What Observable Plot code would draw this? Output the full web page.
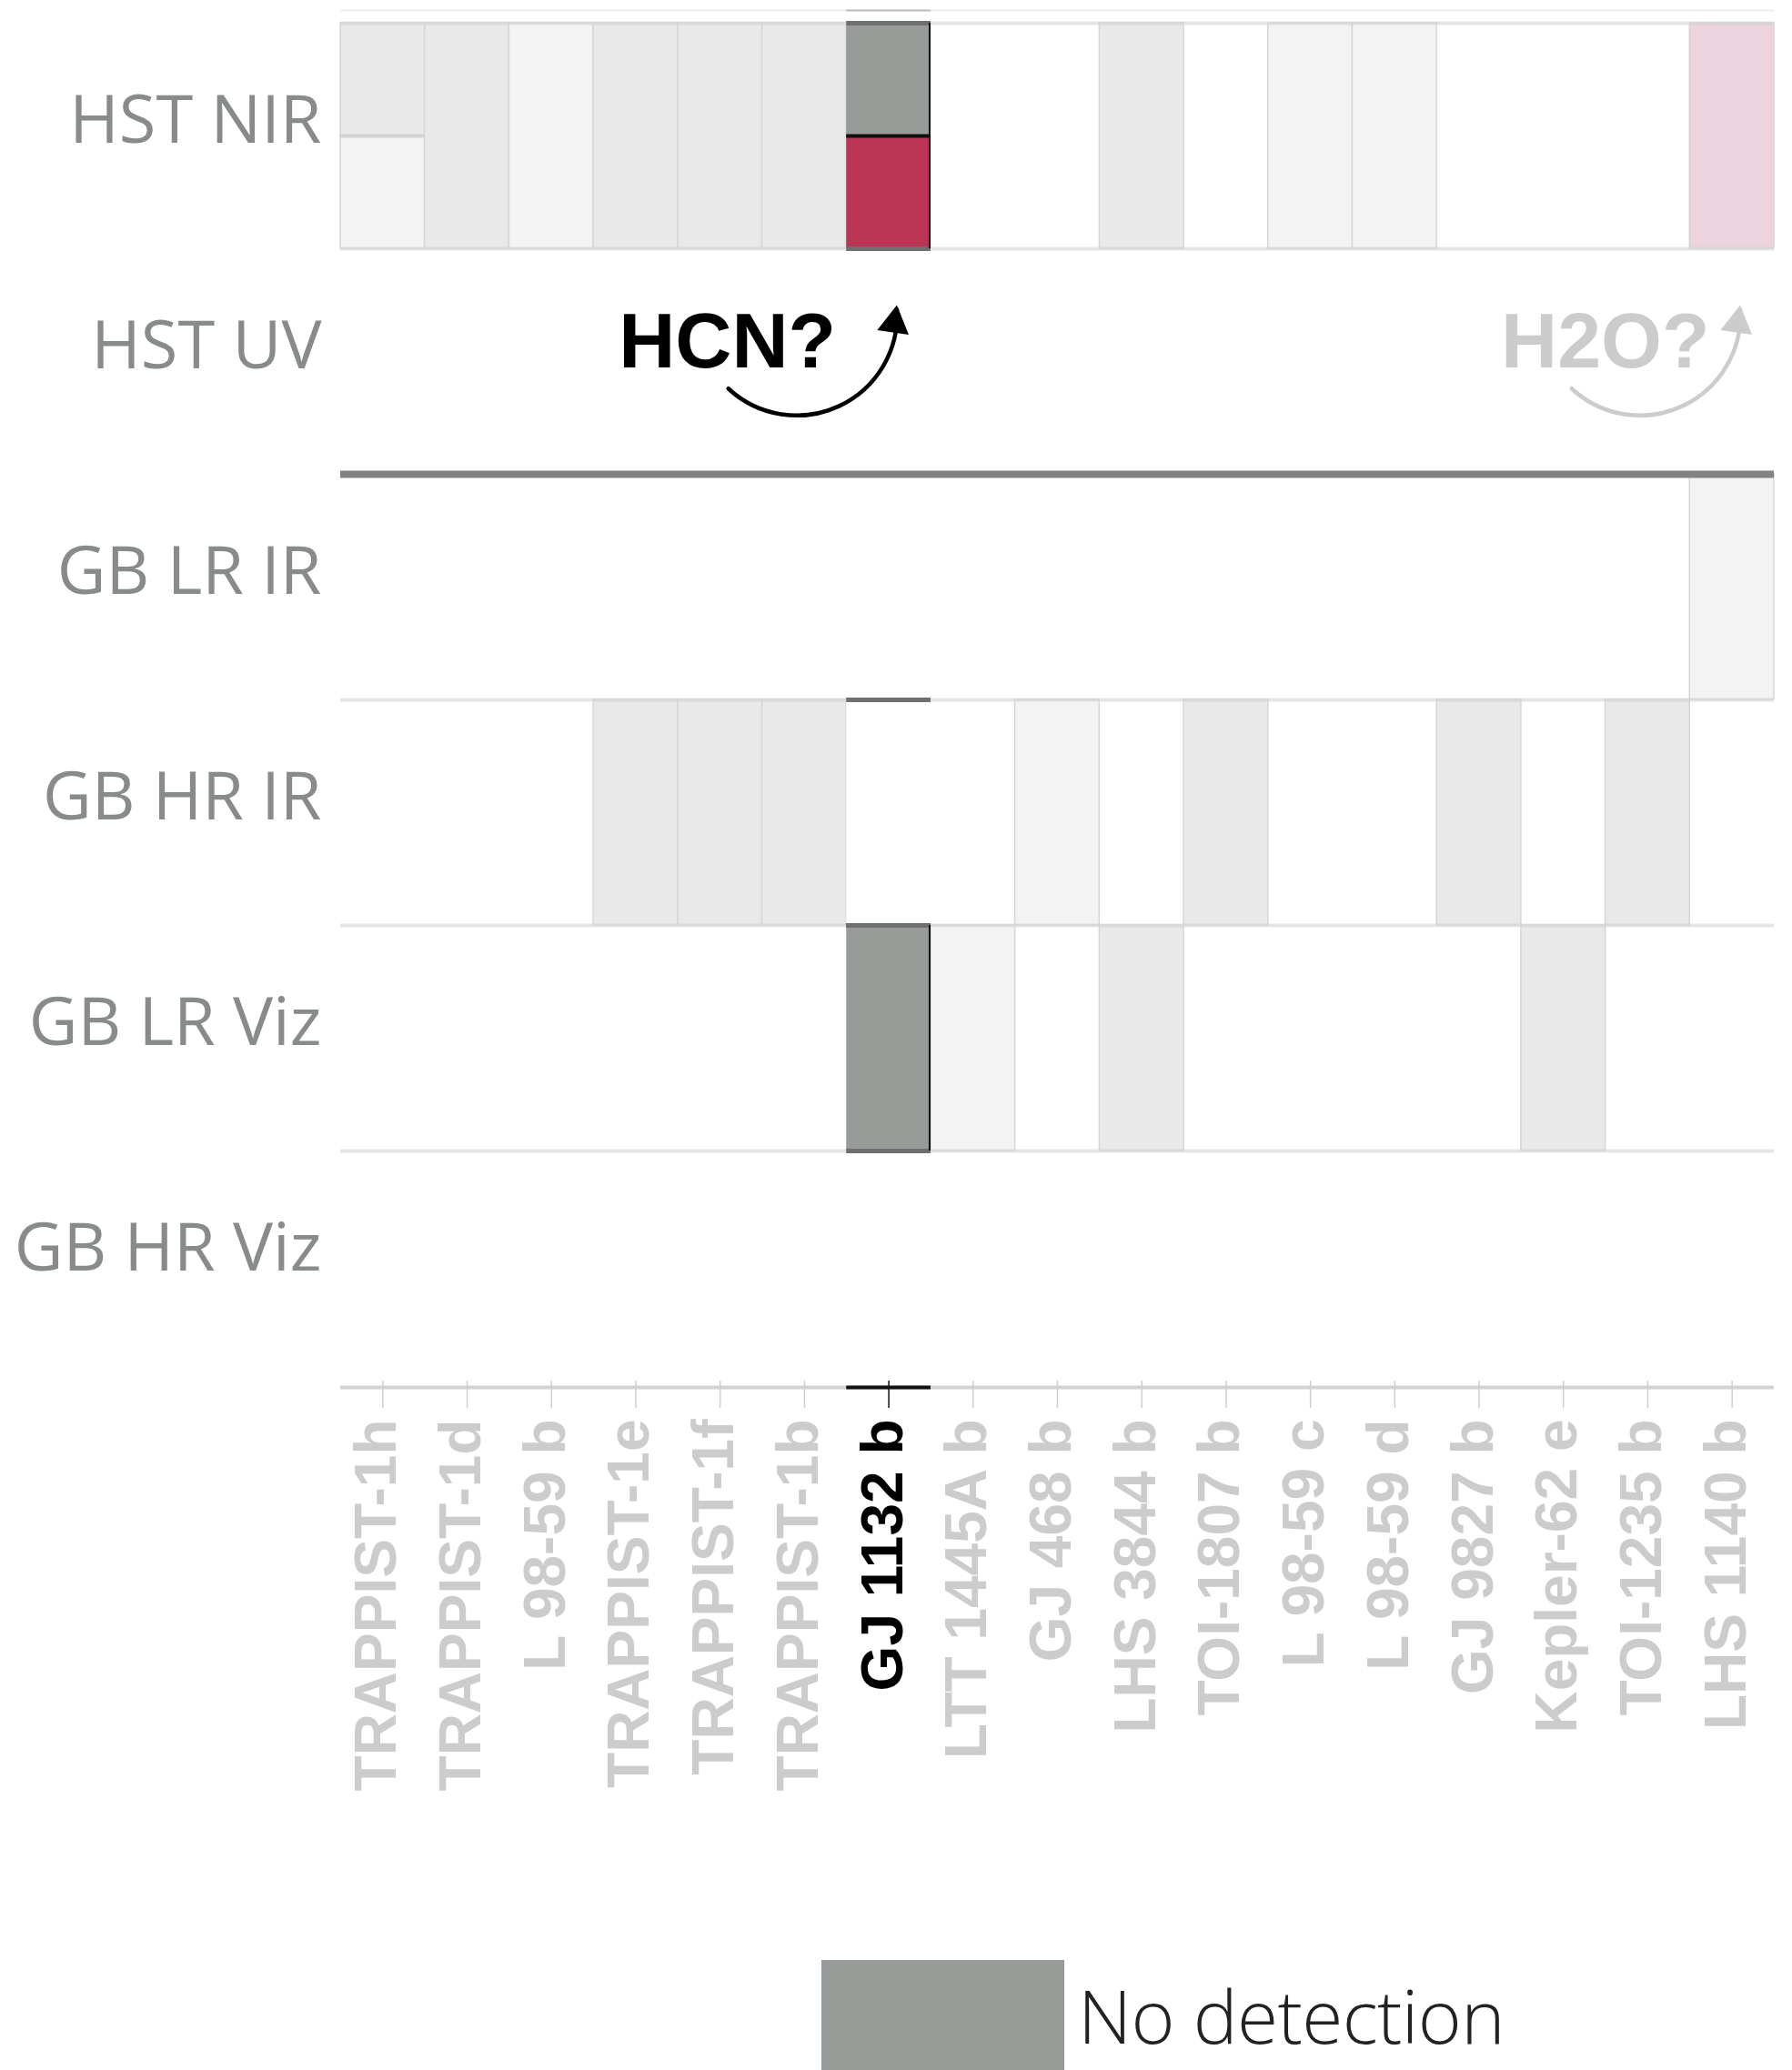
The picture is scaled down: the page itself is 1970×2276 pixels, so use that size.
<!DOCTYPE html>
<html>
<head>
<meta charset="utf-8">
<script src="https://cdn.jsdelivr.net/npm/d3@7"></script>
<script src="https://cdn.jsdelivr.net/npm/@observablehq/plot@0.6"></script>
<style>
  html, body { margin: 0; padding: 0; background: #fff; }
  body { width: 1970px; height: 2276px; overflow: hidden; position: relative; }
  #chart svg { display: block; }
  #legend-swatch { position: absolute; left: 903px; top: 2155px; width: 267px; height: 267px; }
  #legend-label { position: absolute; left: 1185px; top: 2174px; font: 300 82px/82px "Open Sans", sans-serif; color: #222; letter-spacing: -0.6px; white-space: nowrap; }
</style>
</head>
<body>
<div id="chart"></div>
<div id="legend-swatch"></div>
<div id="legend-label"></div>
<script>
// ---------- data ----------
const planets = [
  "TRAPPIST-1h", "TRAPPIST-1d", "L 98-59 b", "TRAPPIST-1e", "TRAPPIST-1f", "TRAPPIST-1b",
  "GJ 1132 b", "LTT 1445A b", "GJ 468 b", "LHS 3844 b", "TOI-1807 b", "L 98-59 c",
  "L 98-59 d", "GJ 9827 b", "Kepler-62 e", "TOI-1235 b", "LHS 1140 b"
];
const instruments = ["HST NIR", "HST UV", "GB LR IR", "GB HR IR", "GB LR Viz", "GB HR Viz"];
const highlight = "GJ 1132 b";

const statuses = ["No detection", "Detection", "Other: no detection", "Other: inconclusive", "Other: detection", "Observed"];
const statusColors = ["#989c99", "#b93553", "#e9e9e9", "#f3f3f3", "#ecd3dd", "#ffffff"];

// [planet, status, part of the cell]
const cellsHstNir = [
  ["TRAPPIST-1h", "Other: no detection", "top"],
  ["TRAPPIST-1h", "Other: inconclusive", "bottom"],
  ["TRAPPIST-1d", "Other: no detection", "full"],
  ["L 98-59 b", "Other: inconclusive", "full"],
  ["TRAPPIST-1e", "Other: no detection", "full"],
  ["TRAPPIST-1f", "Other: no detection", "full"],
  ["TRAPPIST-1b", "Other: no detection", "full"],
  ["GJ 1132 b", "No detection", "top"],
  ["GJ 1132 b", "Detection", "bottom"],
  ["LHS 3844 b", "Other: no detection", "full"],
  ["L 98-59 c", "Other: inconclusive", "full"],
  ["L 98-59 d", "Other: inconclusive", "full"],
  ["LHS 1140 b", "Other: detection", "full"]
];
const cellsHstUv = [];
const cellsGbLrIr = [
  ["LHS 1140 b", "Other: inconclusive", "full"]
];
const cellsGbHrIr = [
  ["TRAPPIST-1e", "Other: no detection", "full"],
  ["TRAPPIST-1f", "Other: no detection", "full"],
  ["TRAPPIST-1b", "Other: no detection", "full"],
  ["GJ 1132 b", "Observed", "full"],
  ["GJ 468 b", "Other: inconclusive", "full"],
  ["TOI-1807 b", "Other: no detection", "full"],
  ["GJ 9827 b", "Other: no detection", "full"],
  ["TOI-1235 b", "Other: no detection", "full"]
];
const cellsGbLrViz = [
  ["GJ 1132 b", "No detection", "full"],
  ["LTT 1445A b", "Other: inconclusive", "full"],
  ["LHS 3844 b", "Other: no detection", "full"],
  ["Kepler-62 e", "Other: no detection", "full"]
];
const cellsGbHrViz = [];

// annotations in the HST UV row
const annotationLabels = ["HCN?", "H2O?"];
const annotationFrom = ["TRAPPIST-1f", "Kepler-62 e"];
const annotationTo = ["GJ 1132 b", "LHS 1140 b"];
const annotationColors = ["#000000", "#cccccc"];

// ---------- build tables ----------
const rowOf = name => instruments.indexOf(name);
const rowLists = [cellsHstNir, cellsHstUv, cellsGbLrIr, cellsGbHrIr, cellsGbLrViz, cellsGbHrViz];
const cells = [];
rowLists.forEach((list, r) => {
  for (const [planet, status, part] of list) {
    const y1 = part === "bottom" ? r + 0.5 : r;
    const y2 = part === "top" ? r + 0.5 : r + 1;
    cells.push({planet, status, part, instrument: instruments[r], y1, y2});
  }
});
const hiCells = cells.filter(d => d.planet === highlight);
const hiEdges = [];
for (const d of hiCells) {
  if (d.part !== "bottom") hiEdges.push({planet: d.planet, y: d.y1});
  if (d.part !== "top") hiEdges.push({planet: d.planet, y: d.y2});
}
const splits = cells.filter(d => d.part === "bottom");
const annotations = annotationLabels.map((label, i) => ({
  label, from: annotationFrom[i], to: annotationTo[i], color: annotationColors[i]
}));
const gbStart = instruments.findIndex(s => s.startsWith("GB"));
const uv = rowOf("HST UV");

// ---------- layout ----------
const W = 1970, H = 2100;
const mL = 374, mR = 20, mT = 25, plotBottom = 1513;
const bw = (W - mL - mR) / planets.length;
const nRows = instruments.length;
const boldFont = "'Liberation Sans', Arial, Helvetica, sans-serif";

const chart = Plot.plot({
  width: W,
  height: H,
  marginLeft: mL,
  marginRight: mR,
  marginTop: mT,
  marginBottom: H - plotBottom,
  style: {background: "#fff", overflow: "visible"},
  x: {type: "band", domain: planets, padding: 0, round: false, axis: null},
  y: {domain: [0, nRows], reverse: true, axis: null},
  color: {type: "ordinal", domain: statuses, range: statusColors},
  marks: [
    Plot.ruleY([0], {dy: -14, stroke: "#ececec", strokeWidth: 2}),
    Plot.tickY([highlight], {x: d => d, y: 0, dy: -14, stroke: "#bdbdbd", strokeWidth: 2}),
    // cells
    Plot.barY(cells.filter(d => d.planet !== highlight), {
      x: "planet", y1: "y1", y2: "y2", fill: "status", stroke: "#d6d6d6", strokeWidth: 1.5
    }),
    Plot.barY(hiCells, {x: "planet", y1: "y1", y2: "y2", fill: "status"}),
    // row separators (no line under the last row; the axis sits there)
    Plot.ruleY(d3.range(0, nRows), {stroke: "#d4d4d4", strokeOpacity: 0.6, strokeWidth: 4}),
    // split line inside halved cells
    Plot.tickY(splits, {
      x: "planet", y: "y1",
      stroke: d => d.planet === highlight ? "#111111" : "#d4d4d4",
      strokeWidth: 4
    }),
    // highlighted column edges
    Plot.tickY(hiEdges, {x: "planet", y: "y", stroke: "#6f6f6f", strokeWidth: 5}),
    Plot.barY(hiCells.filter(d => d.status !== "Observed"), {
      x: "planet", y1: "y1", y2: "y2", fill: "#111", insetLeft: bw - 2
    }),
    // HST / ground-based divider
    Plot.ruleY([gbStart], {stroke: "#828282", strokeWidth: 8}),
    // x axis
    Plot.ruleY([nRows], {dy: 12, stroke: "#d3d3d3", strokeWidth: 4}),
    Plot.tickY([highlight], {x: d => d, y: nRows, dy: 12, stroke: "#111", strokeWidth: 4}),
    Plot.ruleX(planets, {
      x: d => d, y1: nRows, y2: nRows, dy: 12, insetTop: -7, insetBottom: -23,
      stroke: d => d === highlight ? "#111111" : "#cfcfcf", strokeWidth: 1.5
    }),
    Plot.text(planets, {
      x: d => d, y: nRows, dy: 47, dx: -6, rotate: -90, textAnchor: "end",
      fontSize: 64, fontWeight: "bold", fontFamily: boldFont,
      fill: d => d === highlight ? "#000000" : "#cccccc"
    }),
    // y labels
    Plot.text(instruments, {
      y: (d, i) => i + 0.5, frameAnchor: "left", textAnchor: "end", dx: -21, dy: -16,
      fontSize: 74, fontWeight: 500, fontFamily: "'Open Sans', sans-serif", fill: "#878b8a"
    }),
    // annotations
    Plot.text(annotations.slice(0, 1), {
      x: "from", y: () => uv + 0.415, text: "label", fill: "color", dx: 8,
      fontSize: 86, fontWeight: "bold", fontFamily: boldFont
    }),
    Plot.text(annotations.slice(1), {
      x: "from", y: () => uv + 0.415, text: "label", fill: "color", dx: 46,
      fontSize: 86, fontWeight: "bold", fontFamily: boldFont
    }),
    Plot.arrow(annotations, {
      x1: "from", x2: "to", y1: () => uv + 0.62, y2: () => uv + 0.27,
      bend: -68, stroke: "color", strokeWidth: 4.5, headLength: 0, dx: 9
    }),
    Plot.dot(annotations, {
      x: "to", y: () => uv + 0.25, dx: 6, dy: 20, symbol: "triangle", r: 13,
      rotate: 8, fill: "color", stroke: "none"
    })
  ]
});
document.getElementById("chart").append(chart);

// legend (only the "No detection" class is shown)
document.getElementById("legend-swatch").style.background = statusColors[0];
document.getElementById("legend-label").textContent = statuses[0];
</script>
</body>
</html>
